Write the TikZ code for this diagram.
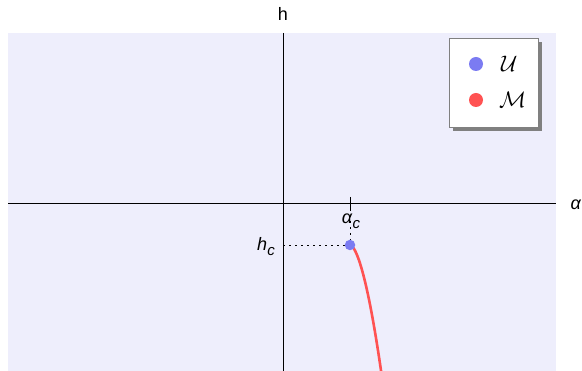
\documentclass[tikz,border=0pt]{standalone}
\usepackage{fontspec}
\setmainfont{Liberation Sans}
\usetikzlibrary{shadows}
\definecolor{bgc}{HTML}{EEEEFC}
\definecolor{ublue}{HTML}{7B7BF2}
\definecolor{mred}{HTML}{FF5252}
\tikzset{
  axis/.style={draw=black, line width=0.8pt},
  lbl/.style={font=\fontsize{18}{21}\selectfont, inner sep=0pt},
  dot/.style={circle, inner sep=0pt, minimum size=14pt},
  guide/.style={line width=0.7pt, dash pattern=on 2pt off 4pt},
}
\begin{document}
\begin{tikzpicture}[x=1pt,y=-1pt]
\useasboundingbox (0,0) rectangle (582,371);
\fill[bgc] (8,33) rectangle (556,371);
% axes
\coordinate (xl) at (8,203);
\coordinate (xr) at (556,203);
\coordinate (yt) at (283,33);
\coordinate (yb) at (283,371);
\draw[axis] (xl) -- (xr);
\draw[axis] (yt) -- (yb);
\node[lbl] (hlab) at (283,14) {h};
\node[lbl] (alab) at (576,205) {\textit{α}};
% critical point
\coordinate (tickt) at (350,197);
\coordinate (tickb) at (350,209);
\coordinate (cp) at (350,245);
\draw[axis] (tickt) -- (tickb);
\coordinate (yc) at (283,245);
\draw[guide] (tickb) -- (cp);
\draw[guide] (yc) -- (cp);
\node[lbl] (aclab) at (351,221) {\textit{α}\raisebox{-0.28em}{\fontsize{15}{17}\selectfont\textit{c}}};
\node[lbl] (hclab) at (266,247) {\textit{h}\raisebox{-0.28em}{\fontsize{15}{17}\selectfont\textit{c}}};
\draw[mred, line width=2.6pt] plot[domain=0:32, samples=60, smooth] ({350+\x},{245+25*(\x/12)^1.7});
\node[dot, fill=ublue, minimum size=10.5pt] (crit) at (cp) {};
% legend
\node[draw=gray, fill=white, minimum width=89pt, minimum height=89pt, inner sep=0pt,
      drop shadow={shadow xshift=4pt, shadow yshift=-4pt, fill=gray, opacity=1}] (leg) at (493.5,82.5) {};
\node[dot, fill=ublue] (ldu) at (476,64) {};
\node[dot, fill=mred] (ldm) at (476,100) {};
\node[lbl, right] (lu) at (501,64) {\scalebox{1.3}{$\mathcal{U}$}};
\node[lbl, right] (lm) at (499,100) {\scalebox{1.3}{$\mathcal{M}$}};
\end{tikzpicture}
\end{document}
